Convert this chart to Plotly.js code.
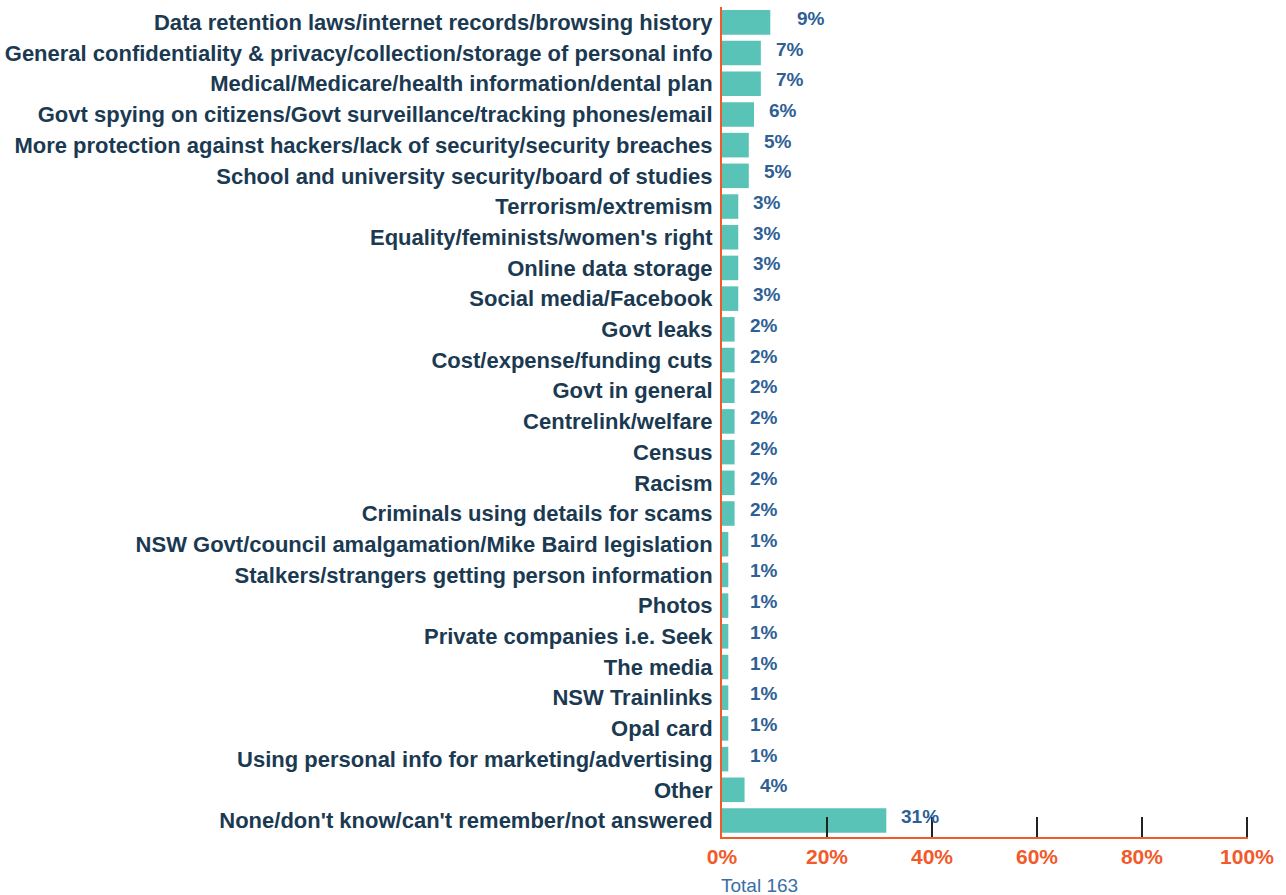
<!DOCTYPE html>
<html>
<head>
<meta charset="utf-8">
<script src="https://cdn.plot.ly/plotly-3.0.1.min.js"></script>
<style>
html,body{margin:0;padding:0;background:#fff;}
#chart{width:1286px;height:895px;}
</style>
</head>
<body>
<div id="chart"></div>
<script>
const categories = [
  "Data retention laws/internet records/browsing history",
  "General confidentiality & privacy/collection/storage of personal info",
  "Medical/Medicare/health information/dental plan",
  "Govt spying on citizens/Govt surveillance/tracking phones/email",
  "More protection against hackers/lack of security/security breaches",
  "School and university security/board of studies",
  "Terrorism/extremism",
  "Equality/feminists/women's right",
  "Online data storage",
  "Social media/Facebook",
  "Govt leaks",
  "Cost/expense/funding cuts",
  "Govt in general",
  "Centrelink/welfare",
  "Census",
  "Racism",
  "Criminals using details for scams",
  "NSW Govt/council amalgamation/Mike Baird legislation",
  "Stalkers/strangers getting person information",
  "Photos",
  "Private companies i.e. Seek",
  "The media",
  "NSW Trainlinks",
  "Opal card",
  "Using personal info for marketing/advertising",
  "Other",
  "None/don't know/can't remember/not answered"
];
const values = [9.2, 7.4, 7.4, 6.1, 5.1, 5.1, 3.1, 3.1, 3.1, 3.1, 2.4, 2.4, 2.4, 2.4, 2.4, 2.4, 2.4,
  1.2, 1.2, 1.2, 1.2, 1.2, 1.2, 1.2, 1.2, 4.3, 31.3];
const valueLabels = ["9%","7%","7%","6%","5%","5%","3%","3%","3%","3%","2%","2%","2%","2%","2%","2%","2%",
  "1%","1%","1%","1%","1%","1%","1%","1%","4%","31%"];
const tickVals = [0, 20, 40, 60, 80, 100];
const tickText = ["0%","20%","40%","60%","80%","100%"];
const totalLabel = "Total 163";

const trace = {
  type: 'bar',
  orientation: 'h',
  y: categories,
  x: values,
  marker: {color: '#59c3b8'},
  width: 0.8,
  hoverinfo: 'none'
};

const annotations = categories.map((c, i) => ({
  x: Math.max(values[i], 2.4),
  y: c,
  xref: 'x', yref: 'y',
  text: valueLabels[i],
  showarrow: false,
  xanchor: 'left',
  yanchor: 'middle',
  xshift: i === 0 ? 25 : 13,
  yshift: 4,
  font: {family: 'Liberation Sans, Arial, sans-serif', size: 19, color: '#2e5f95', weight: 'bold'}
}));
annotations.push({
  x: 0, y: 0, xref: 'x', yref: 'paper',
  text: totalLabel, showarrow: false,
  xanchor: 'left', yanchor: 'top', yshift: -36, xshift: -3,
  font: {family: 'Liberation Sans, Arial, sans-serif', size: 19, color: '#3a6ea5'}
});

const layout = {
  width: 1286, height: 895,
  margin: {l: 722, r: 38, t: 7, b: 58},
  paper_bgcolor: '#ffffff',
  plot_bgcolor: '#ffffff',
  showlegend: false,
  bargap: 0.2,
  xaxis: {
    range: [0, 100.2],
    tickvals: tickVals,
    ticktext: tickText,
    showgrid: false,
    zeroline: false,
    showline: true,
    linecolor: '#f15a2b',
    linewidth: 2,
    ticks: 'inside',
    ticklen: 20,
    tickwidth: 2,
    tickcolor: '#222222',
    tickfont: {family: 'Liberation Sans, Arial, sans-serif', size: 21, color: '#f15a2b', weight: 'bold'},
    fixedrange: true
  },
  yaxis: {
    autorange: 'reversed',
    showgrid: false,
    zeroline: false,
    showline: true,
    linecolor: '#f15a2b',
    linewidth: 2,
    ticks: '',
    ticklabelstandoff: 3,
    tickfont: {family: 'Liberation Sans, Arial, sans-serif', size: 22, color: '#1b3a52', weight: 'bold'},
    fixedrange: true
  },
  annotations: annotations
};

Plotly.newPlot('chart', [trace], layout, {displayModeBar: false, staticPlot: true});
</script>
</body>
</html>
